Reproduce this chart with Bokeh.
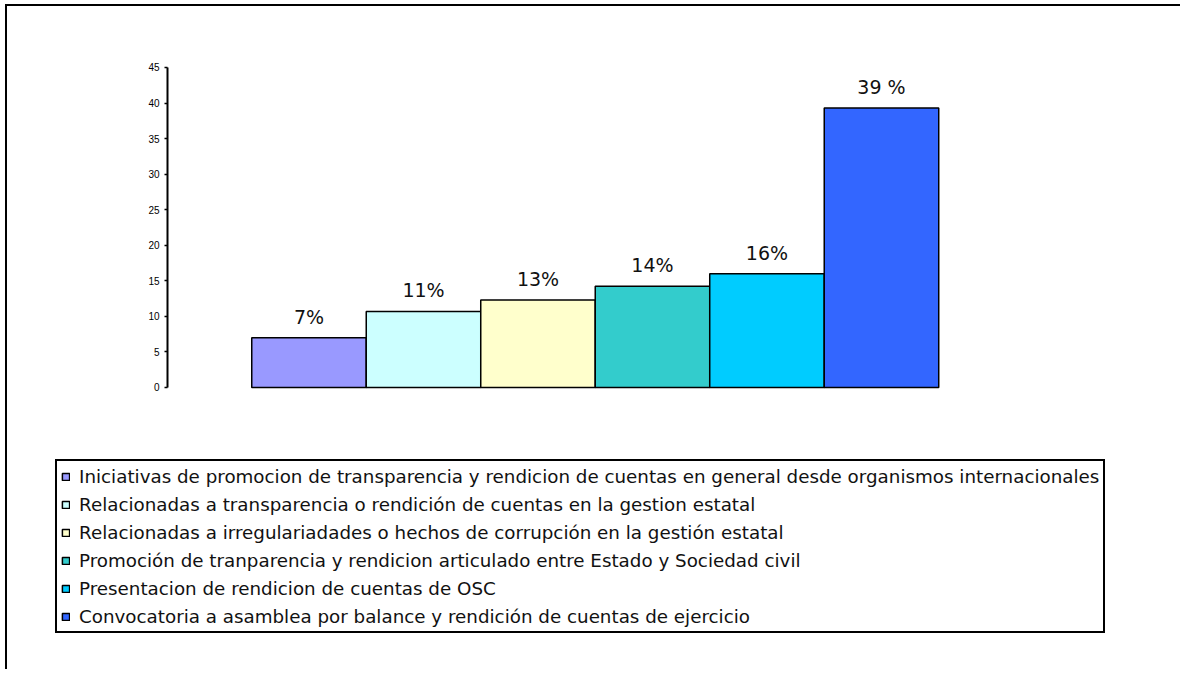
from bokeh.plotting import figure
from bokeh.models import ColumnDataSource, FixedTicker, Legend, LegendItem
from bokeh.core.properties import value
from bokeh.embed import file_html
from bokeh.resources import INLINE

categories = [
    "Iniciativas de promocion de transparencia y rendicion de cuentas en general desde organismos internacionales",
    "Relacionadas a transparencia o rendición de cuentas en la gestion estatal",
    "Relacionadas a irregulariadades o hechos de corrupción en la gestión estatal",
    "Promoción de tranparencia y rendicion articulado entre Estado y Sociedad civil",
    "Presentacion de rendicion de cuentas de OSC",
    "Convocatoria a asamblea por balance y rendición de cuentas de ejercicio",
]
values = [7.0, 10.7, 12.3, 14.25, 16.0, 39.3]
value_labels = ["7%", "11%", "13%", "14%", "16%", "39 %"]
colors = ["#9999FF", "#CCFFFF", "#FFFFCC", "#33CCCC", "#00CCFF", "#3366FF"]
y_ticks = [0, 5, 10, 15, 20, 25, 30, 35, 40, 45]

p = figure(width=1175, height=665, output_backend="svg", toolbar_location=None,
           x_range=(-2.3712, 7.498), y_range=(-37.83, 47.39), x_axis_type=None,
           min_border_left=30, min_border_right=15, min_border_top=44,
           min_border_bottom=15)
p.outline_line_color = None
p.xgrid.visible = False
p.ygrid.visible = False
p.background_fill_color = "white"
p.border_fill_color = "white"

renderers = []
for i in range(len(values)):
    src = ColumnDataSource(dict(x=[i], top=[values[i]], lab=[value_labels[i]]))
    r = p.vbar(x="x", top="top", width=1.0, bottom=0, source=src,
               fill_color=colors[i], line_color="black", line_width=1.5)
    renderers.append(r)
    p.text(x="x", y="top", text="lab", source=src, text_align="center",
           text_baseline="alphabetic", y_offset=-21,
           text_font=value("DejaVu Sans"), text_font_size="19px",
           text_color="#111111")

ax = p.yaxis[0]
ax.fixed_location = -1.2358
ax.bounds = (0, 45)
ax.ticker = FixedTicker(ticks=y_ticks)
ax.axis_line_width = 2
ax.axis_line_color = "black"
ax.major_tick_out = 3
ax.major_tick_in = 0
ax.major_tick_line_width = 1.5
ax.minor_tick_out = 0
ax.minor_tick_in = 0
ax.major_label_text_font = "Liberation Sans"
ax.major_label_text_font_size = "10px"
ax.major_label_text_color = "black"
ax.major_label_standoff = 5

items = [LegendItem(label=categories[i], renderers=[renderers[i]]) for i in range(len(categories))]
legend = Legend(items=items, location=(18, 23), orientation="vertical",
                label_text_font="DejaVu Sans", label_text_font_size="18.3px",
                label_text_color="#111111",
                glyph_width=9, glyph_height=9, label_height=22, label_standoff=9,
                spacing=6, padding=4, margin=0,
                border_line_color="black", border_line_width=2, border_line_alpha=1.0,
                background_fill_color="white", background_fill_alpha=1.0)
p.add_layout(legend, "center")

p.styles = {"border-left": "2px solid black", "border-top": "2px solid black",
            "margin-left": "5px", "margin-top": "4px"}

open("out.html", "w").write(file_html(p, INLINE))
